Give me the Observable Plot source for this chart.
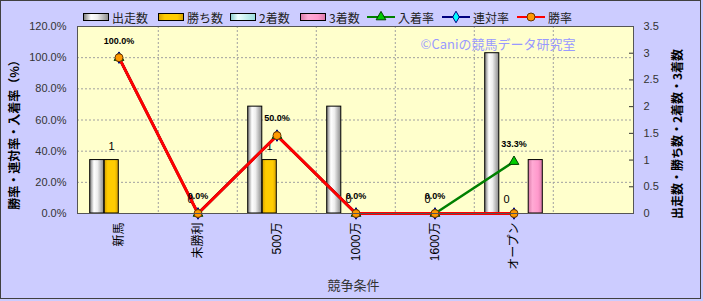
<!DOCTYPE html>
<html><head><meta charset="utf-8">
<script src="https://cdn.jsdelivr.net/npm/d3@7"></script>
<script src="https://cdn.jsdelivr.net/npm/@observablehq/plot@0.6"></script>
<style>
html,body{margin:0;padding:0;background:#ccccff;}
#wrap{position:relative;width:703px;height:301px;overflow:hidden;}
#border{position:absolute;left:0;top:0;width:701px;height:299px;border:1px solid #404040;box-sizing:border-box;pointer-events:none;}
#legend{position:absolute;top:0;left:0;width:703px;height:30px;font-family:"Noto Sans CJK JP",sans-serif;font-size:12px;color:#222;}
.item{position:absolute;top:9px;display:flex;align-items:center;height:16px;white-space:nowrap;}
.item svg{margin-right:3px;display:block;}
</style></head><body>
<div id="wrap"><div id="chart"></div><div id="legend"></div><div id="border"></div></div>
<script>
// ---- data ----
const categories = ["新馬","未勝利","500万","1000万","1600万","オープン"];
const starts  = [1,0,2,2,0,3];   // 出走数
const wins    = [1,0,1,0,0,0];   // 勝ち数
const seconds = [0,0,0,0,0,0];   // 2着数
const thirds  = [0,0,0,0,0,1];   // 3着数
const placeRate  = [100,0,50,0,0,33.3]; // 入着率
const rentaiRate = [100,0,50,0,0,0];    // 連対率
const winRate    = [100,0,50,0,0,0];    // 勝率
const leftTicks  = [0,20,40,60,80,100,120];
const rightTicks = [0,0.5,1,1.5,2,2.5,3,3.5];
const xTitle = "競争条件";
const yLeftTitle = "勝率・連対率・入着率（%）";
const yRightTitle = "出走数・勝ち数・2着数・3着数";
const watermark = "©Caniの競馬データ研究室";

// ---- layout ----
const W = 703, H = 301, mL = 77, mR = 70, mT = 26, mB = 88;
const xDomain = [...categories, " "];
const k = 120 / 3.5;
const plotW = W - mL - mR;
const bw = plotW / xDomain.length;
const barW = 14.5;
const g0 = bw / 2 - 29;

const rows = categories.map((c, i) => ({
  cat: c, starts: starts[i], wins: wins[i], seconds: seconds[i], thirds: thirds[i],
  place: placeRate[i], rentai: rentaiRate[i], win: winRate[i]
}));

const barDefs = [
  {key: "starts", label: "出走数", fill: "url(#gStarts)"},
  {key: "wins", label: "勝ち数", fill: "url(#gWins)"},
  {key: "seconds", label: "2着数", fill: "url(#gSeconds)"},
  {key: "thirds", label: "3着数", fill: "url(#gThirds)"}
];
const lineDefs = [
  {key: "place", label: "入着率", stroke: "#008000", symbol: "triangle", mfill: "#00cc00", mstroke: "#004000", r: 3.6, sw: 2.5},
  {key: "rentai", label: "連対率", stroke: "#000080", symbol: "diamond", mfill: "#00ffff", mstroke: "#000080", r: 3.5, sw: 2.5},
  {key: "win", label: "勝率", stroke: "#ff0000", symbol: "circle", mfill: "#ff9900", mstroke: "#663300", r: 4, sw: 3}
];

const grid = {stroke: "#a0a0a0", strokeDasharray: "2,2", strokeWidth: 1};
const font = "'Liberation Sans', Arial, 'Noto Sans CJK JP', sans-serif";
const cjk = "'Noto Sans CJK JP', sans-serif";

const marks = [
  Plot.frame({fill: "#ffffcc"}),
  Plot.ruleY(leftTicks.filter(t => t > 0 && t < 120), grid),
  Plot.ruleX(xDomain.slice(1), {x: d => d, dx: -bw / 2, ...grid}),
  ...barDefs.map((b, i) => Plot.barY(rows.filter(r => r[b.key] > 0), {
    x: "cat", y: r => r[b.key] * k, fill: b.fill, stroke: "#000", strokeWidth: 1,
    insetLeft: g0 + barW * i, insetRight: bw - g0 - barW * (i + 1)
  })),
  Plot.text(rows, {x: "cat", y: r => r.wins * k, text: r => String(r.wins), dx: -7.5, dy: -14, fontSize: 11, fill: "#000"}),
  ...lineDefs.map(l => Plot.line(rows, {x: "cat", y: l.key, stroke: l.stroke, strokeWidth: l.sw})),
  ...lineDefs.map(l => Plot.dot(rows, {x: "cat", y: l.key, symbol: l.symbol, r: l.r, fill: l.mfill, stroke: l.mstroke, strokeWidth: 1})),
  Plot.text(rows, {x: "cat", y: "place", text: r => r.place.toFixed(1) + "%", dy: -17, fontSize: 9, fontWeight: "bold", fill: "#000"}),
  Plot.text([watermark], {frameAnchor: "top-right", dx: -58, dy: 18, textAnchor: "end", lineAnchor: "middle", fill: "#9999ff", fontSize: 13, fontFamily: cjk}),
  Plot.ruleY(rightTicks, {y: d => d * k, insetLeft: plotW - 4, stroke: "#333"}),
  Plot.frame({stroke: "#555"}),
  Plot.axisY(leftTicks, {anchor: "left", tickSize: 0, tickPadding: 11, tickFormat: d => d.toFixed(1) + "%", fontSize: 11, fill: "#333", label: null}),
  Plot.axisY(rightTicks.map(v => v * k), {anchor: "right", tickSize: 0, tickPadding: 10, tickFormat: d => String(Math.round(d / k * 10) / 10), fontSize: 11, fill: "#333", label: null}),
  Plot.axisX({tickRotate: -90, tickSize: 0, tickPadding: 9, fontSize: 12, fill: "#000", label: null, tickFormat: d => d}),
  Plot.text([xTitle], {frameAnchor: "bottom", dx: -2, dy: 72, textAnchor: "middle", lineAnchor: "middle", fontSize: 13, fill: "#333", fontFamily: cjk}),
  Plot.text([yLeftTitle], {frameAnchor: "left", dx: -62, dy: 12, rotate: -90, textAnchor: "middle", lineAnchor: "middle", fontSize: 12, fontWeight: "bold", fill: "#000", fontFamily: cjk}),
  Plot.text([yRightTitle], {frameAnchor: "right", dx: 45, dy: 14, rotate: -90, textAnchor: "middle", lineAnchor: "middle", fontSize: 12, fontWeight: "bold", fill: "#000", fontFamily: cjk})
];

const chart = Plot.plot({
  width: W, height: H,
  marginLeft: mL, marginRight: mR, marginTop: mT, marginBottom: mB,
  x: {type: "band", domain: xDomain, padding: 0},
  y: {domain: [0, 120]},
  style: {background: "transparent", fontFamily: font, overflow: "visible"},
  marks
});

// gradients
const gradients = {
  gStarts: [[0, "#777"], [0.3, "#fff"], [0.55, "#eee"], [1, "#8a8a8a"]],
  gWins: [[0, "#d6a000"], [0.25, "#ffcc00"], [0.75, "#ffcc00"], [1, "#d6a000"]],
  gSeconds: [[0, "#88cccc"], [0.3, "#eeffff"], [1, "#99dddd"]],
  gThirds: [[0, "#d97aa8"], [0.3, "#ffaad4"], [0.7, "#ff99cc"], [1, "#d97aa8"]]
};
const defs = d3.select(chart).insert("defs", ":first-child");
for (const [id, stops] of Object.entries(gradients)) {
  const g = defs.append("linearGradient").attr("id", id).attr("x1", 0).attr("x2", 1).attr("y1", 0).attr("y2", 0);
  for (const [o, c] of stops) g.append("stop").attr("offset", o).attr("stop-color", c);
}
document.getElementById("chart").appendChild(chart);

// legend
const legend = document.getElementById("legend");
const legendX = [83, 158, 230, 300, 367, 442, 517];
const items = [...barDefs.map(b => ({...b, type: "bar"})), ...lineDefs.map(l => ({...l, type: "line"}))];
items.forEach((it, i) => {
  const div = document.createElement("div");
  div.className = "item";
  div.style.left = legendX[i] + "px";
  let sw;
  if (it.type === "bar") {
    sw = `<svg width="26" height="8"><rect x="0.5" y="0.5" width="25" height="7" fill="${it.fill}" stroke="#000"/></svg>`;
  } else {
    const sym = {triangle: d3.symbolTriangle, diamond: d3.symbolDiamond, circle: d3.symbolCircle}[it.symbol];
    const p = d3.symbol(sym, Math.PI * it.r * it.r)();
    sw = `<svg width="28" height="12"><line x1="0" x2="28" y1="6" y2="6" stroke="${it.stroke}" stroke-width="2"/><path d="${p}" transform="translate(14,6)" fill="${it.mfill}" stroke="${it.mstroke}"/></svg>`;
  }
  div.innerHTML = sw + `<span>${it.label}</span>`;
  legend.appendChild(div);
});
</script>
</body></html>
